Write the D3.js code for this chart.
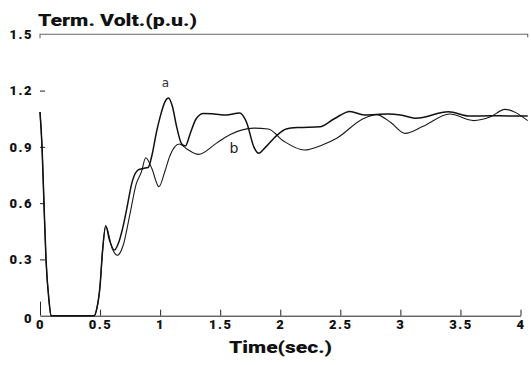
<!DOCTYPE html>
<html>
<head>
<meta charset="utf-8">
<script src="https://cdn.jsdelivr.net/npm/d3@7"></script>
<style>
  body { margin: 0; background: #fff; }
  svg { display: block; }
  .tick text { font-family: Roboto, "Liberation Sans", Arial, sans-serif; font-weight: 900; font-size: 13px; fill: #111; letter-spacing: 1.5px; }
</style>
</head>
<body>
<div id="chart"></div>
<script>
// time (sec.) and terminal voltage (p.u.)
const timeA = [0, 0.017, 0.033, 0.05, 0.075, 0.092, 0.2, 0.3, 0.45, 0.47, 0.5, 0.52, 0.547, 0.58, 0.619, 0.66, 0.7, 0.72, 0.77, 0.818, 0.86, 0.9, 0.93, 0.97, 1.0, 1.04, 1.07, 1.1, 1.14, 1.18, 1.21, 1.25, 1.3, 1.36, 1.45, 1.55, 1.66, 1.72, 1.78, 1.82, 1.88, 1.97, 2.05, 2.15, 2.33, 2.45, 2.58, 2.7, 2.9, 3.0, 3.13, 3.4, 3.58, 3.75, 3.9, 4.06];
const voltA = [1.086, 0.9, 0.6, 0.3, 0.08, 0, 0, 0, 0, 0.03, 0.16, 0.34, 0.478, 0.4, 0.35, 0.4, 0.5, 0.563, 0.72, 0.777, 0.785, 0.79, 0.85, 0.98, 1.06, 1.14, 1.16, 1.12, 1.0, 0.915, 0.905, 0.97, 1.05, 1.078, 1.075, 1.07, 1.08, 1.03, 0.9, 0.866, 0.9, 0.96, 0.995, 1.003, 1.007, 1.05, 1.089, 1.07, 1.075, 1.07, 1.052, 1.087, 1.064, 1.066, 1.065, 1.065];

const timeB = [0, 0.017, 0.033, 0.05, 0.075, 0.092, 0.2, 0.3, 0.45, 0.47, 0.5, 0.52, 0.547, 0.6, 0.644, 0.69, 0.75, 0.8, 0.845, 0.88, 0.93, 0.99, 1.04, 1.08, 1.16, 1.22, 1.32, 1.47, 1.58, 1.78, 1.9, 2.03, 2.2, 2.35, 2.47, 2.69, 2.8, 2.92, 3.04, 3.19, 3.41, 3.61, 3.75, 3.87, 4.06];
const voltB = [1.086, 0.9, 0.6, 0.3, 0.08, 0, 0, 0, 0, 0.03, 0.16, 0.34, 0.478, 0.36, 0.322, 0.37, 0.546, 0.7, 0.768, 0.842, 0.786, 0.688, 0.77, 0.85, 0.915, 0.89, 0.86, 0.92, 0.965, 1.0, 0.995, 0.93, 0.883, 0.91, 0.946, 1.05, 1.072, 1.03, 0.972, 1.01, 1.075, 1.04, 1.06, 1.1, 1.04];

const xTicks = [0, 0.5, 1, 1.5, 2, 2.5, 3, 3.5, 4];
const yTicks = [0, 0.3, 0.6, 0.9, 1.2, 1.5];
const xEnd = 4.06;

const width = 531, height = 365;

const svg = d3.select('#chart')
  .append('svg')
  .attr('width', width)
  .attr('height', height);

const x = d3.scaleLinear().domain([0, 4]).range([40, 520.5]);
const y = d3.scaleLinear().domain([0, 1.5]).range([315.7, 34.3]);

// bottom axis, ticks pointing up
const xAxis = svg.append('g')
  .attr('transform', `translate(0, ${y(0)})`)
  .call(d3.axisBottom(x)
    .tickValues(xTicks)
    .tickFormat(d => d)
    .tickSizeInner(-5)
    .tickSizeOuter(0)
    .tickPadding(4));
xAxis.select('.domain').attr('stroke', '#222');
xAxis.selectAll('.tick line').attr('stroke', '#222')
  .attr('y2', d => d === 0 ? -14 : -6);

// left axis: only short ticks
const yAxis = svg.append('g')
  .attr('transform', `translate(${x(0)}, 0)`)
  .call(d3.axisLeft(y)
    .tickValues(yTicks)
    .tickFormat(d => d)
    .tickSizeInner(-5)
    .tickSizeOuter(0)
    .tickPadding(7));
yAxis.select('.domain').remove();
yAxis.selectAll('.tick line').attr('stroke', '#222')
  .filter(d => d === 0 || d === 1.5).remove();
yAxis.selectAll('.tick').filter(d => d === 0).select('text').attr('dy', '0.5em');

// top frame line at 1.5
svg.append('path')
  .attr('d', `M${x(0)},${y(1.5) + 4}V${y(1.5)}H${x(xEnd)}V${y(1.5) + 3}`)
  .attr('fill', 'none')
  .attr('stroke', '#666')
  .attr('stroke-width', 1.1);

const line = d3.line()
  .x(d => x(d[0]))
  .y(d => y(d[1]))
  .curve(d3.curveMonotoneX);

svg.append('path')
  .datum(timeB.map((t, i) => [t, voltB[i]]))
  .attr('fill', 'none')
  .attr('stroke', '#1a1a1a')
  .attr('stroke-width', 1.1)
  .attr('d', line);

svg.append('path')
  .datum(timeA.map((t, i) => [t, voltA[i]]))
  .attr('fill', 'none')
  .attr('stroke', '#111')
  .attr('stroke-width', 1.5)
  .attr('d', line);

// titles
svg.append('text')
  .attr('x', 38)
  .attr('y', 26)
  .attr('textLength', 159)
  .attr('lengthAdjust', 'spacingAndGlyphs')
  .style('font-family', 'Roboto, "Liberation Sans", Arial, sans-serif')
  .style('font-weight', '900')
  .style('font-size', '16px')
  .attr('fill', '#111')
  .text('Term. Volt.(p.u.)');

svg.append('text')
  .attr('x', 229)
  .attr('y', 353)
  .attr('textLength', 103)
  .attr('lengthAdjust', 'spacingAndGlyphs')
  .style('font-family', 'Roboto, "Liberation Sans", Arial, sans-serif')
  .style('font-weight', '900')
  .style('font-size', '17px')
  .attr('fill', '#111')
  .text('Time(sec.)');

// curve labels
svg.append('text')
  .attr('x', 165.5)
  .attr('y', 87)
  .attr('text-anchor', 'middle')
  .style('font-family', '"DejaVu Sans", sans-serif')
  .style('font-size', '12px')
  .attr('fill', '#333')
  .text('a');

svg.append('text')
  .attr('x', 234)
  .attr('y', 152.5)
  .attr('text-anchor', 'middle')
  .style('font-family', '"DejaVu Sans", sans-serif')
  .style('font-size', '14px')
  .attr('fill', '#222')
  .text('b');
</script>
</body>
</html>
